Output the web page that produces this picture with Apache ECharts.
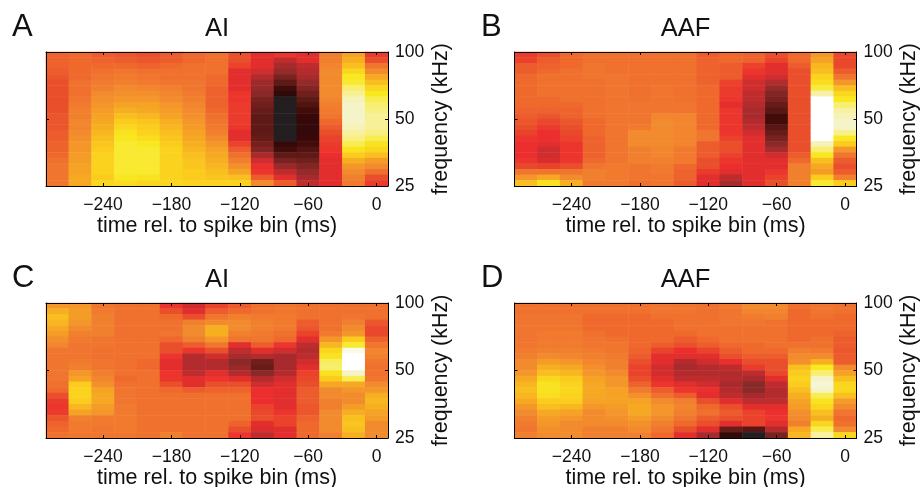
<!DOCTYPE html>
<html><head><meta charset="utf-8">
<style>html,body{margin:0;padding:0;background:#fff}#c{width:921px;height:487px}</style>
<script src="https://cdn.jsdelivr.net/npm/echarts@6/dist/echarts.min.js"></script>
</head><body><div id="c"></div>
<script>
const timeBins = ['-280','-260','-240','-220','-200','-180','-160','-140','-120','-100','-80','-60','-40','-20','0'];
const rowIds = ['r0','r1','r2','r3','r4','r5','r6','r7','r8','r9','r10','r11','r12','r13','r14','r15','r16','r17','r18','r19','r20','r21','r22','r23'];
const freqLabels = ['25','50','100'];
const panelLetters = ['A','B','C','D'];
const panelTitles = ['AI','AAF','AI','AAF'];
// each inner list is one time column, top row to bottom row (0 black ... 100 white)
const panelA = [
[53,53,53,52,51,50,50,50,50,50,50,51,51,51,52,52,53,53,54,55,56,56,56,56],
[54,54,54,54,54,55,55,55,56,57,58,58,59,59,60,61,62,62,63,63,64,64,65,65],
[52,53,54,55,56,57,58,60,61,62,63,64,65,66,67,68,69,70,71,71,71,71,70,72],
[51,52,54,56,57,58,60,61,62,64,66,68,70,72,74,75,76,76,76,76,76,76,75,73],
[50,51,53,55,56,57,59,61,62,64,65,67,69,70,71,73,75,76,76,76,76,76,74,72],
[52,52,54,55,55,56,58,59,60,62,63,64,66,67,68,69,70,71,71,71,71,71,71,72],
[54,54,55,55,55,56,56,57,58,59,60,61,62,63,64,65,66,67,68,69,69,70,70,71],
[55,55,55,55,54,54,53,53,53,53,54,55,56,57,58,60,62,64,65,66,67,68,69,71],
[50,50,48,44,44,44,44,46,46,47,47,47,47,46,44,44,48,52,55,58,61,64,68,71],
[44,44,44,42,38,34,32,30,26,24,22,20,20,20,20,22,25,28,36,42,45,46,52,60],
[46,40,36,32,26,20,12,6,0,0,0,0,0,0,0,0,8,12,20,26,33,40,44,52],
[44,44,40,38,36,32,28,24,20,16,12,10,8,8,8,10,12,16,20,24,28,32,36,40],
[58,58,59,60,60,60,60,60,59,58,57,56,54,52,50,48,47,46,45,44,44,44,44,44],
[64,66,68,72,75,76,80,84,88,90,90,90,90,88,85,82,78,74,70,66,62,60,58,57],
[47,50,56,60,65,68,72,75,78,80,82,84,84,84,82,78,74,72,68,63,60,55,50,47]
];
const panelB = [
[47,48,52,52,54,54,54,54,54,54,53,52,51,50,48,46,45,45,45,46,49,56,62,68],
[50,52,53,54,55,55,55,55,54,54,53,51,49,47,45,45,44,42,42,43,48,56,65,74],
[54,54,54,55,55,55,55,55,55,54,53,53,51,50,49,48,46,46,46,46,50,56,60,66],
[55,55,56,56,56,55,55,55,55,55,55,55,54,54,54,53,53,53,53,54,56,58,58,57],
[55,55,55,55,56,56,56,56,56,56,56,56,56,56,56,56,56,56,56,56,57,57,57,57],
[55,55,55,55,55,55,55,55,55,56,56,56,56,57,60,60,60,58,58,58,56,56,56,55],
[55,55,55,55,55,55,56,56,56,56,56,59,60,60,60,60,60,59,59,58,57,57,56,56],
[55,55,55,55,55,55,55,55,55,56,56,59,59,59,59,59,59,57,57,57,54,53,53,52],
[52,53,53,53,53,53,54,54,54,54,54,54,54,54,56,56,52,52,52,50,50,47,44,44],
[54,54,52,52,52,48,47,47,46,44,46,46,46,46,46,48,50,50,48,46,45,44,40,36],
[53,53,48,46,44,42,42,40,40,38,36,36,38,40,42,44,44,44,44,44,44,44,44,44],
[50,48,44,44,42,38,32,28,26,22,18,12,12,18,22,26,30,36,42,44,44,46,48,50],
[54,54,52,50,50,50,50,50,50,50,50,50,50,50,50,50,50,50,52,54,58,58,58,58],
[62,64,67,68,71,73,77,86,100,100,100,100,100,100,100,100,88,80,75,68,65,63,70,76],
[49,49,49,52,56,62,68,72,75,80,85,88,90,90,83,75,70,62,56,52,50,52,58,70]
];
const panelC = [
[62,66,68,67,65,63,61,59,56,56,56,56,56,56,55,54,50,47,46,47,51,53,54,55],
[62,63,63,62,60,58,57,56,56,56,57,58,62,64,70,71,71,70,67,64,58,57,57,56],
[56,57,58,58,58,58,56,56,55,55,56,56,58,59,61,64,65,65,63,62,57,57,56,56],
[55,55,55,55,55,55,55,55,55,55,55,55,55,54,55,56,56,56,57,57,57,57,57,56],
[55,55,55,55,55,55,55,55,55,55,54,54,55,55,55,55,55,55,55,55,55,55,55,55],
[46,50,54,55,55,56,54,50,50,46,44,44,46,46,50,54,55,55,55,55,55,55,55,58],
[42,44,50,58,60,60,58,52,46,38,38,38,40,44,44,52,55,55,55,55,55,55,55,55],
[48,52,56,60,66,66,62,56,50,42,38,38,44,46,50,53,55,55,55,55,55,55,55,55],
[52,54,58,60,60,58,56,44,40,36,30,33,38,44,50,53,55,55,55,55,55,53,50,46],
[55,55,57,58,58,57,56,52,44,38,24,22,30,38,42,45,45,45,48,49,50,44,43,40],
[56,56,57,57,57,55,54,46,42,36,36,36,38,42,44,44,44,44,44,46,48,48,44,44],
[55,55,55,52,51,48,44,40,38,40,42,44,48,49,50,52,52,52,51,51,53,54,54,54],
[55,55,55,55,55,57,62,67,72,74,79,80,74,70,65,60,60,58,58,60,60,60,60,58],
[55,55,56,58,60,62,70,76,95,100,100,100,90,78,65,62,60,60,63,66,68,69,68,66],
[55,55,55,51,49,49,53,56,59,58,56,55,55,56,60,62,66,67,66,64,63,60,60,60]
];
const panelD = [
[55,55,56,56,56,56,56,56,57,58,60,60,62,65,67,68,67,65,62,60,58,57,56,58],
[55,55,56,56,56,57,57,57,58,60,63,66,68,72,74,74,73,70,68,65,63,62,61,60],
[55,55,56,56,56,57,57,57,58,59,62,65,67,70,71,72,71,70,67,64,62,60,60,60],
[55,55,54,54,54,55,56,56,57,58,59,61,62,64,65,65,65,64,62,60,60,60,58,58],
[55,55,54,54,54,54,55,56,56,57,58,58,60,62,62,64,64,64,63,62,61,60,58,58],
[55,55,54,54,54,54,54,54,53,52,50,48,48,50,53,57,61,64,65,65,63,61,60,58],
[56,56,55,54,54,54,54,52,48,44,44,42,42,44,46,52,55,60,62,62,60,58,56,54],
[56,56,55,55,55,54,52,50,45,44,38,36,38,40,44,46,52,58,59,58,56,54,50,44],
[55,55,55,55,55,55,54,52,48,44,42,38,38,40,42,45,44,50,54,55,52,50,44,36],
[57,56,56,56,55,55,55,54,52,50,45,40,38,38,36,38,40,44,50,52,50,44,22,8],
[60,59,57,56,55,55,55,54,54,52,50,47,40,36,30,30,36,40,44,48,48,48,18,0],
[60,59,58,55,55,55,55,55,54,52,50,50,49,44,40,38,38,40,44,45,46,44,38,26],
[55,54,54,54,54,54,54,55,58,60,61,68,70,71,70,68,66,64,63,61,60,58,65,67],
[56,56,55,54,54,54,55,55,57,60,66,75,80,90,92,90,78,74,72,68,66,72,78,85],
[55,55,54,54,54,53,52,52,51,52,52,60,64,68,72,72,68,63,60,56,54,55,60,72]
];
const panels = [panelA, panelB, panelC, panelD];
const colorStops = ['#231f20','#2c0a0a','#3a0808','#4e1210','#5e1a16','#76201e','#8a2a28','#a42a2c','#be2c2e','#ec2e2e','#ea4f2b','#f0702e','#f28a2e','#f6a823','#fbcc1e','#f9e820','#f8ee70','#f8f0a0','#f5f3c8','#fbfae6','#ffffff'];

const FONT = '"Liberation Sans", Arial, sans-serif';
const rects = [
  {left:46, top:52, width:342, height:134, lx:7, ly:7},
  {left:514.5, top:52, width:342, height:134, lx:476, ly:7},
  {left:46, top:303, width:342, height:135, lx:7, ly:258},
  {left:514.5, top:303, width:342, height:135, lx:476, ly:258}
];
const minus = s => String(s).replace('-', '\u2212');
const keep = (i) => i % 3 === 2;
const opt = {animation:false, backgroundColor:'#fff', textStyle:{fontFamily:FONT},
  title:[], grid:[], xAxis:[], yAxis:[], series:[],
  visualMap:{show:false, type:'continuous', min:0, max:100, inRange:{color:colorStops}, seriesIndex:[0,1,2,3]}
};
const line = {show:true, onZero:false, lineStyle:{color:'#000', width:1}};
const tick = {show:true, inside:true, length:3, lineStyle:{color:'#000', width:1}};
rects.forEach((r,p)=>{
  opt.grid.push({left:r.left, top:r.top, width:r.width, height:r.height, containLabel:false, outerBoundsMode:'none'});
  const xb = opt.xAxis.length, yb = opt.yAxis.length;
  opt.xAxis.push({type:'category', gridIndex:p, position:'bottom', data:timeBins, z:5,
    axisLine:line, axisTick:{...tick, alignWithLabel:true, interval:keep},
    axisLabel:{interval:keep, formatter:minus, color:'#111', fontSize:17.5, margin:10, fontFamily:FONT},
    splitLine:{show:false},
    name:'time rel. to spike bin (ms)', nameLocation:'middle', nameGap:29,
    nameTextStyle:{fontSize:21.5, color:'#111', fontFamily:FONT, lineHeight:22}});
  opt.xAxis.push({type:'category', gridIndex:p, position:'top', data:timeBins, z:5,
    axisLine:line, axisTick:{...tick, alignWithLabel:true, interval:keep},
    axisLabel:{show:false}, splitLine:{show:false}});
  opt.yAxis.push({type:'category', gridIndex:p, data:rowIds, inverse:true, show:false});
  opt.yAxis.push({type:'value', gridIndex:p, position:'right', min:0, max:2, interval:1, z:5,
    axisLine:line, axisTick:tick, splitLine:{show:false},
    axisLabel:{formatter:v=>freqLabels[v], color:'#111', fontSize:17.5, margin:7, fontFamily:FONT, align:'left'},
    name:'frequency (kHz)', nameLocation:'middle', nameRotate:90, nameGap:42,
    nameTextStyle:{fontSize:21.5, color:'#111', fontFamily:FONT, lineHeight:22}});
  opt.yAxis.push({type:'value', gridIndex:p, position:'left', min:0, max:2, interval:1, z:5,
    axisLine:line, axisTick:tick, splitLine:{show:false}, axisLabel:{show:false}});
  const data=[];
  panels[p].forEach((col,ci)=>col.forEach((v,ri)=>data.push([ci,ri,v])));
  opt.series.push({type:'heatmap', xAxisIndex:xb, yAxisIndex:yb, data, progressive:0, itemStyle:{borderWidth:0}, emphasis:{disabled:true}});
  opt.title.push({text:panelTitles[p], left:r.left+166, top:r.top-41, textAlign:'center',
    textStyle:{fontSize:25.5, fontWeight:'normal', color:'#111', fontFamily:FONT}});
  opt.title.push({text:panelLetters[p], left:r.lx, top:r.ly, textStyle:{fontSize:31, fontWeight:'normal', color:'#111', fontFamily:FONT}});
});
const chart = echarts.init(document.getElementById('c'), null, {renderer:'canvas'});
chart.setOption(opt);
</script>
</body></html>
